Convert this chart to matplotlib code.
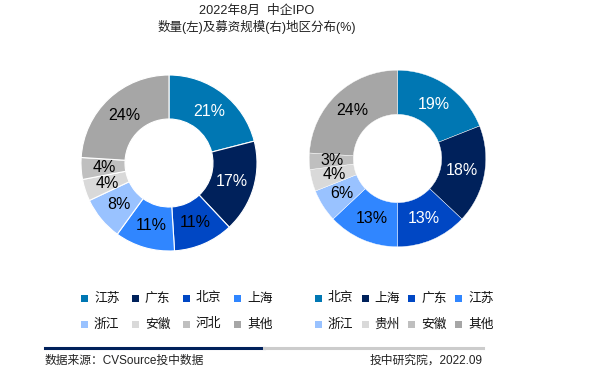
import matplotlib
matplotlib.use("Agg")
import matplotlib.pyplot as plt
from matplotlib.patches import Rectangle

plt.rcParams['font.family'] = ['Liberation Sans', 'Noto Sans CJK SC', 'DejaVu Sans']

left_labels = ['江苏', '广东', '北京', '上海', '浙江', '安徽', '河北', '其他']
left_values = [21, 17, 11, 11, 8, 4, 4, 24]
right_labels = ['北京', '上海', '广东', '江苏', '浙江', '贵州', '安徽', '其他']
right_values = [19, 18, 13, 13, 6, 4, 3, 24]

colors = ['#0077B3', '#00215B', '#0047C4', '#3086FF', '#99C2FF', '#D9D9D9', '#BFBFBF', '#A6A6A6']
left_text_colors = ['white', 'white', 'black', 'black', 'black', 'black', 'black', 'black']
right_text_colors = ['white', 'white', 'white', 'black', 'black', 'black', 'black', 'black']

W, H = 600, 377
fig = plt.figure(figsize=(W / 100, H / 100), dpi=100)
CJK = ['Liberation Sans', 'Noto Sans CJK SC']


def donut(cx, cy, r, values, tcolors, lw):
    ax = fig.add_axes([(cx - r) / W, 1 - (cy + r) / H, 2 * r / W, 2 * r / H])
    wedges, texts = ax.pie(values, colors=colors, startangle=90, counterclock=False,
                           radius=1, labels=[f'{v}%' for v in values], labeldistance=0.74,
                           wedgeprops=dict(width=0.5, edgecolor='white', linewidth=lw),
                           textprops=dict(fontsize=11.5))
    for t, c in zip(texts, tcolors):
        t.set_color(c)
        t.set_ha('center')
        t.set_va('center')
    ax.set_xlim(-1, 1)
    ax.set_ylim(-1, 1)
    ax.axis('off')
    return wedges


wl = donut(169, 163, 88, left_values, left_text_colors, 0.8)
wr = donut(397.5, 158.5, 88.3, right_values, right_text_colors, 0.3)


def legend(labels, x0, dx):
    for i, lab in enumerate(labels):
        row, col = divmod(i, 4)
        x = x0 + col * dx
        y = 298 + row * 26
        fig.add_artist(Rectangle((x / W, 1 - (y + 3.5) / H), 7 / W, 7 / H,
                                 transform=fig.transFigure, facecolor=colors[i],
                                 edgecolor='none'))
        fig.text((x + 13) / W, 1 - y / H, lab, ha='left', va='center',
                 fontsize=9.2, family=['Noto Sans CJK SC'], color='#111111')


legend(left_labels, 81, 51)
legend(right_labels, 315, 46.7)

fig.text(257 / W, 1 - 10.5 / H, '2022年8月  中企IPO', ha='center', va='center',
         fontsize=9.2, family=CJK, color='#222222')
fig.text(257 / W, 1 - 27.5 / H, '数量(左)及募资规模(右)地区分布(%)', ha='center', va='center',
         fontsize=9.0, family=CJK, color='#222222')

fig.add_artist(plt.Line2D([45 / W, 264 / W], [1 - 348 / H, 1 - 348 / H], color='#00215B', lw=2.2))
fig.add_artist(plt.Line2D([264 / W, 483 / W], [1 - 348 / H, 1 - 348 / H], color='#CCCCCC', lw=2.2))

fig.text(45 / W, 1 - 361 / H, '数据来源：CVSource投中数据', ha='left', va='center',
         fontsize=8.5, family=CJK, color='#222222')
fig.text(483 / W, 1 - 361 / H, '投中研究院，2022.09', ha='right', va='center',
         fontsize=8.5, family=CJK, color='#222222')

fig.savefig('out.png', dpi=100, facecolor='white')
